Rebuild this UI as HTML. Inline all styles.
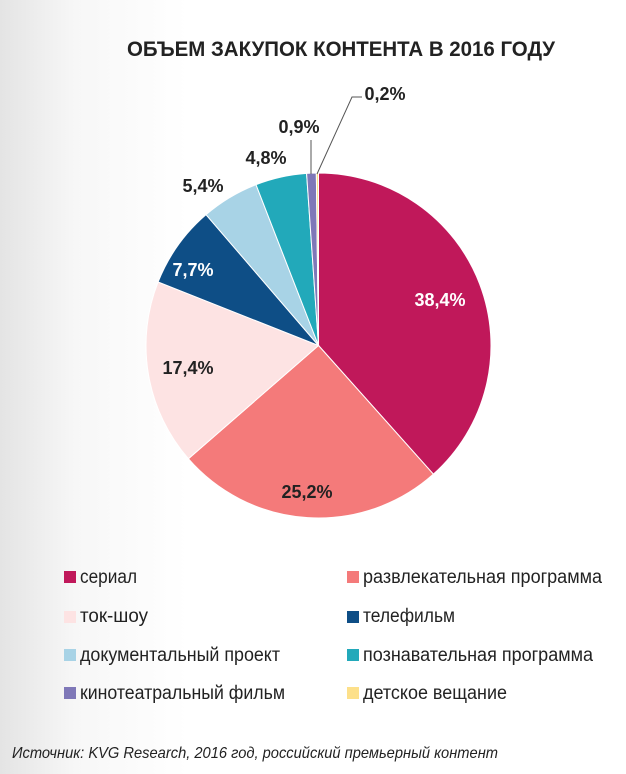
<!DOCTYPE html>
<html><head><meta charset="utf-8"><style>
body{margin:0;width:626px;height:774px;overflow:hidden;background:linear-gradient(90deg,#e4e4e4 0%,#f7f7f7 12%,#fff 30%,#fff 100%);font-family:"Liberation Sans","DejaVu Sans",sans-serif;}
svg{position:absolute;left:0;top:0}
</style></head><body>
<svg id="s" width="626" height="774" xmlns="http://www.w3.org/2000/svg">
<text x="127" y="56" textLength="428" lengthAdjust="spacingAndGlyphs" font-size="21" font-weight="bold" fill="#222" font-family="Liberation Sans, sans-serif">ОБЪЕМ ЗАКУПОК КОНТЕНТА В 2016 ГОДУ</text>
<g id="pie"></g>
<g font-size="18" font-family="Liberation Sans, sans-serif" fill="#222" font-weight="bold">
<text x="440" y="306" text-anchor="middle" fill="#fff">38,4%</text>
<text x="307" y="498" text-anchor="middle">25,2%</text>
<text x="188" y="374" text-anchor="middle">17,4%</text>
<text x="193" y="276" text-anchor="middle" fill="#fff">7,7%</text>
<text x="203" y="192" text-anchor="middle">5,4%</text>
<text x="266" y="164" text-anchor="middle">4,8%</text>
<text x="299" y="133" text-anchor="middle">0,9%</text>
<text x="385" y="100" text-anchor="middle">0,2%</text>
</g>
<line x1="311" y1="140" x2="311" y2="174" stroke="#555" stroke-width="1"/>
<polyline points="317,174 352,97 362,97" fill="none" stroke="#555" stroke-width="1"/>
<g font-size="19" fill="#222" font-family="Liberation Sans, sans-serif">
<rect x="64" y="571" width="12" height="12" fill="#c0185a"/><text x="80" y="583" textLength="57" lengthAdjust="spacingAndGlyphs">сериал</text>
<rect x="347" y="571" width="12" height="12" fill="#f47a7a"/><text x="363" y="583" textLength="239" lengthAdjust="spacingAndGlyphs">развлекательная программа</text>
<rect x="64" y="611" width="12" height="12" fill="#fde3e3"/><text x="80" y="622" textLength="68" lengthAdjust="spacingAndGlyphs">ток-шоу</text>
<rect x="347" y="611" width="12" height="12" fill="#0e4e86"/><text x="363" y="622" textLength="92" lengthAdjust="spacingAndGlyphs">телефильм</text>
<rect x="64" y="649" width="12" height="12" fill="#a8d3e6"/><text x="80" y="661" textLength="200" lengthAdjust="spacingAndGlyphs">документальный проект</text>
<rect x="347" y="649" width="12" height="12" fill="#22a9ba"/><text x="363" y="661" textLength="230" lengthAdjust="spacingAndGlyphs">познавательная программа</text>
<rect x="64" y="687" width="12" height="12" fill="#7f78b8"/><text x="80" y="699" textLength="205" lengthAdjust="spacingAndGlyphs">кинотеатральный фильм</text>
<rect x="347" y="687" width="12" height="12" fill="#fde08a"/><text x="363" y="699" textLength="144" lengthAdjust="spacingAndGlyphs">детское вещание</text>
</g>
<text x="12" y="758" textLength="486" lengthAdjust="spacingAndGlyphs" font-size="16" font-style="italic" fill="#222" font-family="Liberation Sans, sans-serif">Источник: KVG Research, 2016 год, российский премьерный контент</text>
</svg>
<script>
var d=[[38.4,"#c0185a"],[25.2,"#f47a7a"],[17.4,"#fde3e3"],[7.7,"#0e4e86"],[5.4,"#a8d3e6"],[4.8,"#22a9ba"],[0.9,"#7f78b8"],[0.2,"#fde08a"]];
var cx=318.5,cy=345.5,r=172.5,a=-Math.PI/2,g=document.getElementById("pie"),h="";
d.forEach(function(s){var b=a+s[0]/100*2*Math.PI;var x1=cx+r*Math.cos(a),y1=cy+r*Math.sin(a),x2=cx+r*Math.cos(b),y2=cy+r*Math.sin(b);
h+='<path d="M'+cx+','+cy+' L'+x1+','+y1+' A'+r+','+r+' 0 '+((b-a)>Math.PI?1:0)+' 1 '+x2+','+y2+' Z" fill="'+s[1]+'" stroke="#fff" stroke-width="1"/>';a=b;});
g.innerHTML=h;
</script>
</body></html>
